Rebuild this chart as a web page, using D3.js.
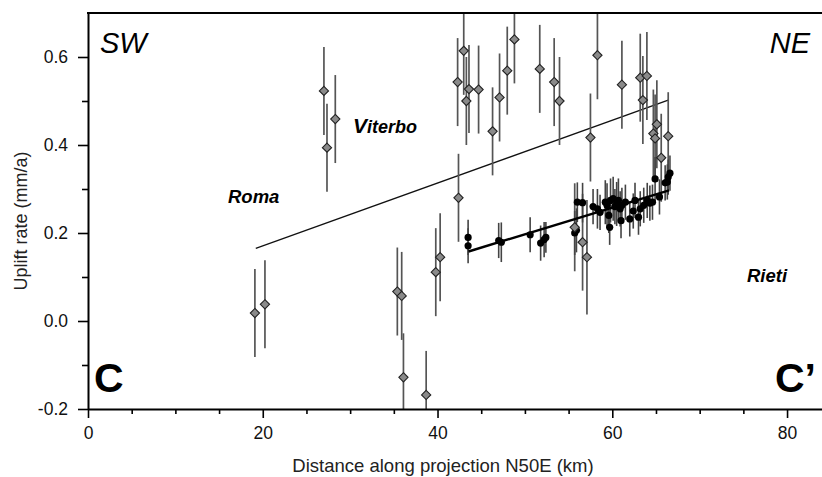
<!DOCTYPE html>
<html lang="en">
<head>
  <meta charset="UTF-8">
  <title>Uplift rate profile C-C'</title>
  <script src="https://d3js.org/d3.v7.min.js"></script>
  <style>
    body {
      margin: 0;
      background-color: #ffffff;
      font-family: "Liberation Sans", Arial, sans-serif;
    }
    svg {
      display: block;
    }
    .region {
      font-weight: bold;
      font-style: italic;
    }
  </style>
</head>
<body>
  <svg id="chart"></svg>
  <script>
    // axis ticks
    const xTicks = [0, 20, 40, 60, 80];
    const xMinorTicks = [5, 10, 15, 25, 30, 35, 45, 50, 55, 65, 70, 75];
    const yTicks = [-0.2, 0.0, 0.2, 0.4, 0.6];
    const yMinorTicks = [-0.1, 0.1, 0.3, 0.5];

    // grey diamonds: [distance km, uplift mm/a, error]
    const diamondPts = [
      [19.1, 0.018, 0.1], [20.25, 0.038, 0.1],
      [27.0, 0.523, 0.1], [27.35, 0.394, 0.1], [28.3, 0.459, 0.1],
      [35.4, 0.067, 0.1], [35.9, 0.057, 0.1], [36.1, -0.128, 0.1], [38.7, -0.168, 0.1],
      [39.8, 0.111, 0.1], [40.3, 0.145, 0.1], [42.4, 0.28, 0.1],
      [42.3, 0.543, 0.1], [43.0, 0.614, 0.1], [43.3, 0.50, 0.1], [43.6, 0.527, 0.1],
      [44.7, 0.526, 0.1], [46.3, 0.431, 0.1], [47.1, 0.508, 0.1], [47.98, 0.569, 0.1],
      [48.8, 0.64, 0.1], [51.7, 0.573, 0.1], [53.35, 0.543, 0.1], [53.96, 0.50, 0.1],
      [55.7, 0.213, 0.1], [56.6, 0.179, 0.11], [57.1, 0.145, 0.13], [57.5, 0.417, 0.1],
      [58.3, 0.604, 0.1], [61.1, 0.537, 0.1], [63.2, 0.553, 0.1], [63.5, 0.502, 0.1],
      [63.96, 0.557, 0.1], [64.7, 0.426, 0.1], [64.9, 0.415, 0.1], [65.1, 0.447, 0.1],
      [65.6, 0.371, 0.1], [66.4, 0.42, 0.1]
    ];

    // black dots: [distance km, uplift mm/a, error]
    const dotPts = [
      [43.5, 0.19, 0.04], [43.5, 0.171, 0.04], [47.0, 0.183, 0.04], [47.3, 0.179, 0.045],
      [50.6, 0.196, 0.04], [51.8, 0.177, 0.04], [52.2, 0.185, 0.04], [52.4, 0.19, 0.035],
      [55.7, 0.2, 0.05], [55.9, 0.206, 0.05], [56.0, 0.27, 0.045], [56.6, 0.269, 0.045],
      [57.8, 0.26, 0.04], [58.3, 0.255, 0.045], [58.6, 0.247, 0.04], [59.2, 0.27, 0.05],
      [59.4, 0.263, 0.05], [59.6, 0.24, 0.04], [59.7, 0.213, 0.04], [59.8, 0.274, 0.05],
      [60.1, 0.278, 0.05], [60.3, 0.26, 0.04], [60.5, 0.266, 0.05], [60.7, 0.274, 0.05],
      [60.9, 0.255, 0.04], [61.0, 0.228, 0.04], [61.1, 0.263, 0.04], [61.5, 0.27, 0.04],
      [62.0, 0.232, 0.04], [62.4, 0.25, 0.04], [62.6, 0.274, 0.04], [63.0, 0.236, 0.04],
      [63.2, 0.255, 0.04], [63.6, 0.263, 0.04], [64.0, 0.274, 0.04], [64.3, 0.268, 0.04],
      [64.6, 0.27, 0.04], [65.4, 0.282, 0.04], [64.9, 0.323, 0.05], [66.05, 0.314, 0.04],
      [66.3, 0.316, 0.04], [66.4, 0.327, 0.04], [66.6, 0.336, 0.04]
    ];

    // regression lines: [[x0, y0], [x1, y1]]
    const fitAll = [[19.2, 0.165], [66.4, 0.502]];
    const fitDots = [[43.55, 0.158], [66.5, 0.297]];

    const width = 822, height = 477;
    const margin = { top: 13, right: 0, bottom: 68, left: 88 };

    const svg = d3.select("#chart")
      .attr("width", width)
      .attr("height", height);

    const x = d3.scaleLinear()
      .domain([0, 84])
      .range([margin.left, width - margin.right]);

    const y = d3.scaleLinear()
      .domain([-0.2, 0.7])
      .range([height - margin.bottom, margin.top]);

    svg.append("defs").append("clipPath")
      .attr("id", "plot-clip")
      .append("rect")
      .attr("x", margin.left)
      .attr("y", margin.top)
      .attr("width", width - margin.left - margin.right)
      .attr("height", height - margin.top - margin.bottom);

    const plot = svg.append("g").attr("clip-path", "url(#plot-clip)");

    // fit lines
    const line = d3.line().x(d => x(d[0])).y(d => y(d[1]));
    plot.append("path")
      .datum(fitAll)
      .attr("d", line)
      .attr("fill", "none")
      .attr("stroke", "#111")
      .attr("stroke-width", 1.3);

    // error bars for diamonds
    plot.selectAll(".dbar")
      .data(diamondPts)
      .enter().append("line")
      .attr("class", "dbar")
      .attr("x1", d => x(d[0]))
      .attr("x2", d => x(d[0]))
      .attr("y1", d => y(d[1] + d[2]))
      .attr("y2", d => y(d[1] - d[2]))
      .attr("stroke", "#555")
      .attr("stroke-width", 1.7);

    // error bars for dots
    plot.selectAll(".pbar")
      .data(dotPts)
      .enter().append("line")
      .attr("class", "pbar")
      .attr("x1", d => x(d[0]))
      .attr("x2", d => x(d[0]))
      .attr("y1", d => y(d[1] + d[2]))
      .attr("y2", d => y(d[1] - d[2]))
      .attr("stroke", "#444")
      .attr("stroke-width", 1.6);

    plot.append("path")
      .datum(fitDots)
      .attr("d", line)
      .attr("fill", "none")
      .attr("stroke", "#000")
      .attr("stroke-width", 2.4);

    // black dots
    plot.selectAll(".dot")
      .data(dotPts)
      .enter().append("circle")
      .attr("class", "dot")
      .attr("cx", d => x(d[0]))
      .attr("cy", d => y(d[1]))
      .attr("r", 3.6)
      .attr("fill", "#000");

    // grey diamonds
    const r = 4.6;
    plot.selectAll(".diamond")
      .data(diamondPts)
      .enter().append("path")
      .attr("class", "diamond")
      .attr("transform", d => `translate(${x(d[0])},${y(d[1])})`)
      .attr("d", `M0,${-r}L${r},0L0,${r}L${-r},0Z`)
      .attr("fill", "#8a8a8a")
      .attr("stroke", "#222")
      .attr("stroke-width", 1.1);

    // axes
    const xAxis = svg.append("g")
      .attr("transform", `translate(0,${y(-0.2)})`)
      .call(d3.axisBottom(x).tickValues(xTicks).tickFormat(d => String(d)).tickSize(9).tickSizeOuter(0));
    svg.append("g")
      .attr("transform", `translate(0,${y(-0.2)})`)
      .call(d3.axisBottom(x).tickValues(xMinorTicks).tickFormat("").tickSize(5).tickSizeOuter(0))
      .select(".domain").remove();

    const yAxis = svg.append("g")
      .attr("transform", `translate(${x(0)},0)`)
      .call(d3.axisLeft(y).tickValues(yTicks).tickFormat(d => d.toFixed(1)).tickSize(10).tickSizeOuter(0));
    svg.append("g")
      .attr("transform", `translate(${x(0)},0)`)
      .call(d3.axisLeft(y).tickValues(yMinorTicks).tickFormat("").tickSize(6).tickSizeOuter(0))
      .select(".domain").remove();

    svg.selectAll(".domain").attr("stroke", "#000").attr("stroke-width", 2);
    svg.selectAll(".tick line").attr("stroke", "#000").attr("stroke-width", 1.6);
    svg.selectAll(".tick text")
      .attr("font-family", "'Liberation Sans', Arial, sans-serif")
      .attr("font-size", 17.5)
      .attr("fill", "#111");
    xAxis.selectAll(".tick text").attr("dy", 0).attr("y", 29.5);
    yAxis.selectAll(".tick text").attr("x", -20);

    // top border
    svg.append("line")
      .attr("x1", x(0) - 1)
      .attr("x2", width)
      .attr("y1", y(0.7))
      .attr("y2", y(0.7))
      .attr("stroke", "#000")
      .attr("stroke-width", 2.2);

    // axis titles
    svg.append("text")
      .attr("x", 443)
      .attr("y", 472)
      .attr("text-anchor", "middle")
      .attr("font-size", 18.5)
      .attr("fill", "#222")
      .text("Distance along projection N50E (km)");

    svg.append("text")
      .attr("transform", "translate(27,221) rotate(-90)")
      .attr("text-anchor", "middle")
      .attr("font-size", 18)
      .attr("fill", "#222")
      .text("Uplift rate (mm/a)");

    // direction and section labels
    svg.append("text")
      .attr("x", 100).attr("y", 53)
      .attr("font-size", 29).attr("font-style", "italic")
      .text("SW");
    svg.append("text")
      .attr("x", 810).attr("y", 53)
      .attr("text-anchor", "end")
      .attr("font-size", 29).attr("font-style", "italic")
      .text("NE");
    svg.append("text")
      .attr("x", 94).attr("y", 392)
      .attr("font-size", 41).attr("font-weight", "bold")
      .text("C");
    svg.append("text")
      .attr("x", 775).attr("y", 392)
      .attr("font-size", 41).attr("font-weight", "bold")
      .text("C\u2019");

    // place names
    svg.append("text").attr("class", "region")
      .attr("x", 228).attr("y", 203)
      .attr("font-size", 18.5)
      .text("Roma");
    const vit = svg.append("text").attr("class", "region")
      .attr("x", 353).attr("y", 133)
      .attr("font-size", 18);
    vit.append("tspan").attr("font-size", 21).text("V");
    vit.append("tspan").text("iterbo");
    svg.append("text").attr("class", "region")
      .attr("x", 747).attr("y", 282)
      .attr("font-size", 18.5)
      .text("Rieti");
  </script>
</body>
</html>
